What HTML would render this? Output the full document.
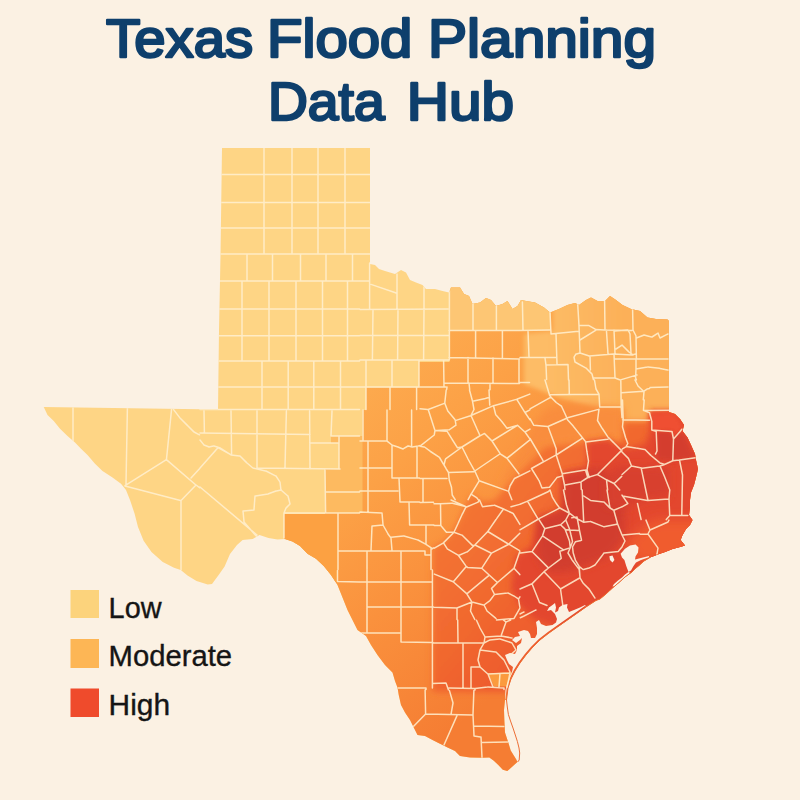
<!DOCTYPE html>
<html><head><meta charset="utf-8"><title>Texas Flood Planning Data Hub</title>
<style>html,body{margin:0;padding:0;background:#fbf1e3;}body{width:800px;height:800px;overflow:hidden;font-family:"Liberation Sans",sans-serif;}svg{display:block}</style>
</head><body>
<svg width="800" height="800" viewBox="0 0 800 800">
<defs>
<clipPath id="tx"><path d="M222,148 L370,148 L370,264 L375,265 L379,269 L385,271 L395,274 L401,270 L406,272.5 L410,280 L416,282.5 L422.5,285 L426,289 L435,289 L442.5,291 L449,292.5 L451,287.5 L460,287.5 L464,294 L469,296 L472.5,304 L480,302.5 L486,298 L491,300 L496,306 L502.5,304 L507.5,301 L512.5,309 L517.5,306 L521,300 L526,301 L535,302.5 L544,307.5 L550,312.5 L559,309 L567.5,305 L575,303 L579,305 L586,300 L591,297.5 L597.5,301 L605,301 L610,296 L616,300 L622.5,305 L631,309 L640,311 L647.5,317.5 L656,319 L667.5,319.5 L669,321 L669,412 L675,414 L680,419 L684,425 L682.5,431 L687.5,437.5 L691,445 L695,454 L696,460 L698,469 L696,477.5 L694,485 L691,492.5 L690,500 L690,507.5 L689,515 L692.5,520 L690,525 L686,529 L682.5,535 L680.6,540 L685,545.6 L680,547 L672.5,549 L665,552 L659,554 L654,556 L650,557.5 L644,561 L639,565.6 L636,568 L632,572 L625,577 L619,582.5 L612.5,588 L606,594 L600,599 L596,600.5 L586,607 L577.5,613 L567.5,620 L557.5,627 L549,633 L540,640 L532,648 L526,655 L520,663 L515,671 L511,679 L508,688 L507,696 L506.5,700 L505,700 L504,710 L504.4,721 L505,732.5 L508.4,742.7 L510.7,750.5 L516.3,759.5 L517.4,762 L513,766 L507.3,771 L502.8,769.7 L498.3,765 L493.8,760.7 L489.3,757.5 L482.5,757.8 L470,757.5 L460,756 L455,751 L447.5,747.5 L440,743.75 L432.5,740 L425,736 L417.5,735 L413.75,727.5 L410,720 L405,712.5 L401,705 L398.75,695 L397.5,687.5 L395,681 L392.5,672.5 L385,665 L377.5,655 L371,645 L366,636 L357.5,630 L352.5,620 L347.5,610 L342.5,597.5 L337.5,585 L331,575 L323.75,566 L316,558.75 L307.5,553.75 L300,546 L292.5,541.5 L285,539 L277.5,539.6 L268.5,538 L259.5,535 L252.75,539 L242.6,540 L237,545 L230,554 L224.6,566.6 L219,574.5 L212,584 L207.75,584.6 L196.5,581 L187.5,575.6 L180.75,570 L174,567.75 L162.75,562 L151.5,552 L143.6,540.75 L138,527 L134.6,513.75 L130,500 L126,490 L121,483.75 L112.5,477.5 L102.5,471 L95,463.75 L87.5,455 L81,448.75 L75,442.5 L67.5,436 L60,428.75 L53.75,421 L47.5,415 L43.75,407 L218,409.5 L219,330 L220.5,255Z"/></clipPath>
<filter id="b2" x="-50%" y="-50%" width="200%" height="200%"><feGaussianBlur stdDeviation="2"/></filter>
<filter id="b3" x="-50%" y="-50%" width="200%" height="200%"><feGaussianBlur stdDeviation="3"/></filter>
<filter id="b4" x="-50%" y="-50%" width="200%" height="200%"><feGaussianBlur stdDeviation="4"/></filter>
<filter id="b6" x="-50%" y="-50%" width="200%" height="200%"><feGaussianBlur stdDeviation="6"/></filter>
<filter id="b8" x="-50%" y="-50%" width="200%" height="200%"><feGaussianBlur stdDeviation="8"/></filter>
<filter id="b14" x="-50%" y="-50%" width="200%" height="200%"><feGaussianBlur stdDeviation="14"/></filter>
<filter id="b22" x="-50%" y="-50%" width="200%" height="200%"><feGaussianBlur stdDeviation="22"/></filter>
<linearGradient id="gmod" gradientUnits="userSpaceOnUse" x1="340" y1="380" x2="560" y2="640"><stop offset="0" stop-color="#fdac50"/><stop offset="0.3" stop-color="#fca146"/><stop offset="0.6" stop-color="#fa913d"/><stop offset="1" stop-color="#f57d33"/></linearGradient>
<linearGradient id="gdeep" gradientUnits="userSpaceOnUse" x1="440" y1="480" x2="600" y2="620"><stop offset="0" stop-color="#f57a33"/><stop offset="0.55" stop-color="#f1682f"/><stop offset="1" stop-color="#ec542e"/></linearGradient>
<linearGradient id="gne" gradientUnits="userSpaceOnUse" x1="545" y1="0" x2="625" y2="0"><stop offset="0" stop-color="#fdbc66"/><stop offset="1" stop-color="#fcb058"/></linearGradient>
</defs>
<rect width="800" height="800" fill="#fbf1e3"/>
<g clip-path="url(#tx)">
<rect x="0" y="100" width="800" height="700" fill="#fed585"/>
<path d="M449.5,280 L449.5,330.5 L449.5,362 L419,362 L419,387.5 L366,387.5 L366,410 L362.5,410 L362.5,436 L331,436 L331,443 L339,443 L339,469 L325,469 L325,514 L284,514 L284,560 L284,800 L800,800 L800,280Z" fill="url(#gmod)"/>
<path d="M449.5,280 L551,280 L551,330.5 L449.5,330.5Z" fill="#fdc674"/>
<path d="M331,436 L362.5,436 L362.5,513 L325,513 L325,469 L339,469 L339,443 L331,443Z" fill="#fdba60"/>
<path d="M284,514 L338,514 L338,582 L284,582Z" fill="#fca142"/>
<path d="M553,285 L700,285 L700,412 L650,412 L650,422 L623,422 L623,408 L597,408 L560,398 L524,384 L524,334 L553,331Z" fill="url(#gne)" filter="url(#b2)"/>
<path d="M500,488 L515,458 L530,430 L545,410 L560,405 L623,408 L623,440 L608,439 L586,442 L545,447 L530,462 L510,482Z" fill="#f98d3c" filter="url(#b4)"/>
<path d="M432.5,692 L432.5,548 L446,540 L456,526 L464,508 L472,494 L482,502 L495,500 L510,482 L530,462 L545,447 L586,442 L608,439 L615,444 L623,440 L623,422 L650,422 L650,412 L700,412 L700,640 L505,692Z" fill="url(#gdeep)" filter="url(#b3)"/>
<path d="M700,411 L650,411 L650,432 L645,445 L625,449 L615,444 L608,439 L586,442 L587,452 L587,468 L562,473 L562,510 L538,518 L532,546 L516,556 L511,588 L520,606 L536,620 L600,640 L720,560Z" fill="#e3462e" filter="url(#b3)"/>
<path d="M655,520 L700,520 L700,560 L640,562 L622,545 L640,530Z" fill="#f05c2f" filter="url(#b6)"/>
<path d="M488,673.5 L512,672 L508,686.5 L494,686.5Z" fill="#fb9b3e"/>
<path d="M650,413 L670.5,412 L675,414 L682.5,425 L681,431.5 L673.5,439 L672,431.5 L657,431 L652,430 L651,421Z" fill="#ef5030" filter="url(#b2)"/>
<path d="M538,519 L562,510 L564,474 L600,468 L616,478 L626,500 L624,540 L610,556 L585,566 L566,572 L548,572 L537,556Z" fill="#d23c2e" filter="url(#b4)"/>
<path d="M657,432 L672,432 L673.5,439 L681,432 L686,438 L691,450 L695,458 L679,460 L673,461 L657,460Z" fill="#d43c2e" filter="url(#b2)"/>
<path d="M615,466 L645,466 L669,468 L669,497 L646,499 L625,508 L606,506 L606,482Z" fill="#d83f2e" filter="url(#b4)"/>
</g>
<path d="M586,606.5 L585,605 L580,607.5 L574,610 L569,612 L567,607.5 L567.5,604 L562.5,605 L559,607.5 L558,611 L555,612.5 L556,607.5 L555,603 L552.5,605 L549,607.5 L547,611 L551,610 L555,614 L557,619 L556,622.5 L552.5,625 L546,626 L541,624 L539,620 L536,622 L537,628 L537,634 L535,638 L531,638 L530,634 L528,631 L524,630 L518,632 L520,636 L515,637 L512,640 L516,643 L520,640 L522,638 L521,643 L517,646 L517,650 L515,654 L510,653 L505,655 L507,660 L509,664 L513,667 L512,672 L510,676 L507,684 L505.5,690 L505,700 L505.4,699.1 L505.9,695.1 L506.9,687.1 L509.9,678.1 L513.9,670.1 L518.9,662.1 L524.9,654.1 L530.9,647.1 L538.9,639.1 L547.9,632.1 L556.4,626.1 L566.4,619.1 L576.4,612.1 L584.9,606.1Z" fill="#fbf1e3"/>
<path d="M620.6,553.75 L625,548.75 L630,545.6 L635.6,544.4 L638.5,547.5 L638,552.5 L635.6,556.25 L635,559.4 L641,558 L649,556 L649,557.3 L641,560 L636,562.5 L633.5,566 L631,570.5 L628.5,572 L626.25,566 L624.4,560 L622,557.5Z" fill="#fbf1e3"/>
<path d="M609.4,556.25 L612.5,555.6 L614.4,560 L612.5,562.5 L610,560Z" fill="#fbf1e3"/>
<path d="M628.5,572 L625,574.5 L622,577.5 L618,580.5 L614,584 L612.5,586.5 L614.5,586.2 L618.5,582.7 L622.5,579.2 L626,576.2 L630,572.7Z" fill="#fbf1e3"/>
<path d="M650,557.5 L644,561 L639,565.6 L636,568 L632,572 L625,577 L619,582.5 L612.5,588 L606,594 L600,599 L596,600.5 L586,607 L577.5,613 L567.5,620 L557.5,627 L549,633 L540,640 L532,648 L526,655 L520,663 L515,671 L511,679 L508,688 L507,696 L506.5,700 L507.3,707 L508.4,714.5 L510.5,721 L513,728 L515.3,735 L517.4,741.5 L519,748 L519.7,753 L519.2,760 L517.6,762" fill="none" stroke="#ec6e35" stroke-width="1" stroke-linejoin="round"/>
<clipPath id="cgrid"><path d="M0,0H800V250H360V410H0Z"/></clipPath>
<g clip-path="url(#tx)" fill="none" stroke="#fff0d0" stroke-width="1.5" stroke-opacity="0.86" stroke-linejoin="round" stroke-linecap="round">
<path d="M215.0,174.5L371.5,174.5L372.0,174.5M215.0,202.5L371.5,202.5L372.0,202.5M215.0,228.0L371.5,228.0L372.0,228.0M264.0,148.0L264.0,249.5M292.0,148.0L292.0,249.5M318.0,148.0L318.0,249.5M345.0,148.0L345.0,249.5M215.0,254.0L359.5,254.0M264.0,250.0L264.0,253.5L264.0,254.0M292.0,250.0L292.0,253.5L292.0,254.0M318.0,250.0L318.0,253.5L318.0,254.0M345.0,250.0L345.0,253.5L345.0,254.0M215.0,281.0L359.5,281.0M215.0,309.0L359.5,309.0M247.0,254.0L247.0,280.5L247.0,281.0M272.5,254.0L272.5,280.5L272.5,281.0M300.5,254.0L300.5,280.5L300.5,281.0M326.0,254.0L326.0,280.5L326.0,281.0M352.5,254.0L352.5,280.5L352.5,281.0M242.0,281.0L242.0,360.5L242.0,361.0M269.0,281.0L269.0,360.5L269.0,361.0M296.0,281.0L296.0,360.5L296.0,361.0M322.5,281.0L322.5,360.5L322.5,361.0M347.5,281.0L347.5,360.5L347.5,361.0M215.0,335.8L359.5,335.8M215.0,361.0L359.5,361.0M215.0,387.0L359.5,387.0M200.0,409.6L359.5,409.6M262.0,361.0L262.0,409.5M288.2,361.0L288.2,409.5M313.8,361.0L313.8,409.5M340.5,361.0L340.5,409.5M360.0,254.0L369.5,254.0L370.0,254.0M360.0,281.0L369.1,281.0L369.6,281.0M360.0,309.6L447.5,309.0L448.0,309.0M360.0,335.6L448.5,335.6L449.0,335.6M449.0,330.6L519.5,330.6M360.0,360.0L448.5,360.0L449.0,360.0M449.0,357.4L519.5,359.0M360.0,387.0L445.5,387.0L446.0,387.0M444.0,383.0L519.5,383.6M369.6,263.0L369.6,309.1L369.6,309.6M371.0,284.4L395.5,292.8L396.0,293.0M397.0,274.0L397.0,309.1L397.0,309.6M424.0,287.0L424.0,309.1L424.0,309.6M449.4,291.0L449.4,359.5L449.4,360.0M473.0,304.0L473.0,330.1L473.0,330.6M496.4,306.0L496.4,330.1L496.4,330.6M373.0,309.6L372.4,359.5L372.4,360.0M398.0,309.6L397.6,359.5L397.6,360.0M424.0,309.6L423.6,359.5L423.6,360.0M475.6,330.6L475.6,356.9L475.6,357.4M502.4,330.6L502.4,356.9L502.4,357.4M366.0,360.0L366.0,409.5M392.0,360.0L392.0,386.5L392.0,387.0M419.0,360.0L419.0,386.5L419.0,387.0M443.6,360.0L444.0,386.5L444.0,387.0M468.0,357.4L468.0,382.5L468.0,383.0M493.0,358.0L493.0,382.5L493.0,383.0M519.0,359.0L519.0,383.1L519.0,383.6M390.0,387.0L390.0,409.5M416.6,387.0L416.6,409.5M447.0,387.0L446.7,389.5M469.0,383.0L469.7,389.5M490.0,383.6L490.0,389.7M522.4,302.0L523.0,329.9L523.0,330.4M520.0,330.6L549.5,330.0L550.0,330.0M550.0,312.0L551.0,333.5L551.0,334.0M551.0,334.0L578.5,331.2L579.0,331.2M577.6,302.4L579.0,325.5L579.0,326.0M579.0,325.6L588.5,325.6L589.0,325.6L595.6,329.4L596.0,329.6L604.5,330.0L605.0,330.0L631.5,330.4L632.0,330.4M604.6,300.0L605.0,329.5L605.0,330.0M632.6,309.0L633.0,329.5L633.0,330.0L635.8,335.5L636.0,336.0L636.4,358.5L636.4,359.0M528.0,330.6L529.0,356.9L529.0,357.4M520.0,357.4L555.5,357.4L556.0,357.4M556.0,334.0L557.0,363.9L557.0,364.4M545.0,358.0L545.9,364.5L546.0,365.0M546.0,365.0L567.5,364.4L568.0,364.4M520.0,382.4L529.5,382.4M546.0,365.0L546.6,379.5M568.0,364.4L568.5,380.0M579.0,326.0L580.0,352.5L580.0,353.0M580.0,340.0L595.6,330.3L596.0,330.0M606.4,330.0L608.0,353.5L608.0,354.0M614.0,330.0L615.0,353.5L615.0,354.0M615.0,331.0L627.5,330.0L628.0,330.0L629.8,333.5L630.0,334.0L631.0,353.5L631.0,354.0M616.0,349.0L621.6,345.3L622.0,345.0L628.6,351.6L629.0,352.0L632.6,354.7L633.0,355.0M580.0,353.0L576.5,353.9L576.0,354.0L574.3,356.6L574.0,357.0L574.9,361.5L575.0,362.0L585.6,367.8L586.0,368.0L591.6,373.6L592.0,374.0L593.4,379.5M580.0,353.0L588.5,355.8L589.0,356.0L613.5,354.0L614.0,354.0L631.5,355.0L632.0,355.0L635.5,354.1L636.0,354.0M590.0,356.0L590.4,369.5L590.4,370.0M614.0,354.0L615.0,377.5L615.0,378.0M594.0,378.0L614.5,378.0L615.0,378.0L619.5,379.8M620.5,379.9L636.5,375.1L637.0,375.0M615.0,359.0L667.5,359.0L668.0,359.0M636.4,338.0L643.5,335.2L644.0,335.0L651.5,336.9L652.0,337.0L657.6,333.3L658.0,333.0L659.8,337.5L660.0,338.0L667.5,334.2L668.0,334.0M636.0,369.0L647.5,367.1L648.0,367.0L659.5,368.3L660.0,368.4L667.5,369.9L668.0,370.0M636.0,359.0L636.0,368.5L636.0,369.0L635.6,377.5L635.6,378.0L636.4,379.9M650.0,387.6L667.5,387.0L668.0,387.0M363.0,410.0L363.0,440.5L363.0,441.0M387.0,410.0L387.0,440.5L387.0,441.0M411.6,410.0L411.6,446.5L411.6,447.0M360.0,441.0L386.5,441.0L387.0,441.0M419.5,445.6L418.5,445.9L418.0,446.0L412.5,446.9L412.0,447.0L408.5,446.1L408.0,446.0L403.5,448.7L403.0,449.0L398.5,447.2L398.0,447.0L392.5,445.2L392.0,445.0L387.4,441.3L387.0,441.0M368.0,441.0L368.0,511.5L368.0,512.0M360.0,468.0L390.5,468.0L391.0,468.0M360.0,491.0L397.5,491.0L398.0,491.0M360.0,512.0L381.5,513.0L382.0,513.0M392.0,445.6L392.0,477.5L392.0,478.0M392.0,478.0L419.5,478.0M417.0,446.4L417.0,477.5L417.0,478.0M399.0,478.0L400.0,501.5L400.0,502.0M400.0,502.0L419.5,502.0M409.0,502.0L409.6,524.5L409.6,525.0M409.6,525.0L433.9,525.0M382.0,513.0L383.0,524.5L383.0,525.0L372.5,526.0L372.0,526.0L371.0,550.5L371.0,551.0M383.0,525.0L387.8,533.5L388.0,534.0L390.7,537.6L391.0,538.0L392.0,550.5L392.0,551.0M391.0,537.2L403.5,536.0L404.0,536.0L417.5,539.9L418.0,540.0L425.6,544.2L426.0,544.4L431.6,548.1L432.0,548.4M360.0,551.0L424.5,551.0L425.0,551.0L425.0,554.5L425.0,555.0L430.5,555.0L431.0,555.0M367.0,551.0L367.0,569.5M401.0,551.0L401.0,569.5M431.0,548.4L431.0,569.5M426.0,525.6L426.0,543.9L426.0,544.4M433.8,547.9L432.4,548.7L432.0,549.0M646.0,520.1L649.8,529.5L650.0,530.0L648.2,533.5L648.0,534.0L640.0,534.3M648.0,534.0L657.7,547.6L658.0,548.0L657.1,553.5L657.0,554.0M650.0,530.0L667.5,522.2L668.0,522.0L668.9,520.1M360.0,582.0L431.9,582.0L432.4,582.0M367.0,570.0L367.0,632.5L367.0,633.0M401.0,570.0L401.0,641.5L401.0,642.0M367.0,607.0L432.5,607.0L433.0,607.0M360.0,633.0L400.5,633.0L401.0,633.0M401.0,642.0L432.5,642.4L433.0,642.4M432.4,570.0L432.4,687.5L432.4,688.0M433.0,607.0L433.5,607.0M457.7,620.0L458.0,642.5L458.0,643.0M433.0,643.0L483.5,643.0L484.0,643.0M463.0,643.0L463.0,687.5L463.0,688.0M398.0,688.0L425.5,688.0L426.0,688.0L426.0,689.5M432.4,683.6L445.5,683.0L446.0,683.0L448.4,689.7M449.0,688.0L474.5,688.4L475.0,688.4L487.5,687.1L488.0,687.0L503.5,688.0L504.0,688.0L504.0,689.5M475.0,688.4L475.0,689.9M471.0,667.0L471.0,687.5L471.0,688.0M471.0,667.0L479.5,667.0L480.0,667.0L487.6,673.7L488.0,674.0L509.5,673.0L510.0,673.0M488.0,674.0L492.8,686.5L493.0,687.0M500.0,673.6L499.0,686.9L499.0,687.4M510.0,673.0L507.1,687.1L507.0,687.6M484.0,643.0L480.2,649.6L480.0,650.0L478.1,659.5L478.0,660.0L479.9,666.5L480.0,667.0M476.5,620.2L479.8,627.5L480.0,628.0L484.8,636.5L485.0,637.0L484.1,642.5L484.0,643.0M503.6,620.1L505.6,621.7L506.0,622.0L501.2,635.5L501.0,636.0L485.5,637.0L485.0,637.0M506.0,622.0L510.7,620.0M501.0,636.0L511.5,637.9L512.0,638.0M484.0,643.0L489.5,640.2L490.0,640.0L499.5,639.0L500.0,639.0L511.5,642.8L512.0,643.0L515.8,649.6L516.0,650.0L509.4,655.7L509.0,656.0M480.0,650.0L495.5,651.9L496.0,652.0L503.6,659.6L504.0,660.0L509.8,671.5L510.0,672.0M520.0,614.0L523.5,612.2L524.0,612.0M520.3,617.7L523.5,616.2L524.0,616.0L535.5,610.2L536.0,610.0M204.0,411.0L204.4,432.5L204.4,433.0M231.0,411.0L231.6,454.5L231.6,455.0M257.0,411.0L257.0,467.5L257.0,468.0M286.4,411.0L285.0,467.5L285.0,468.0M309.6,411.0L310.0,468.5L310.0,469.0M332.0,411.0L331.0,435.5L331.0,436.0M200.0,433.0L309.5,434.4L310.0,434.4M309.6,443.0L338.5,443.0L339.0,443.0M339.0,436.0L339.0,468.5L339.0,469.0M331.0,436.0L359.5,436.0M257.0,468.0L339.5,469.0L340.0,469.0M325.0,469.0L325.6,511.9L325.6,512.4M325.6,492.0L359.5,492.0M284.0,513.0L359.5,513.0M338.0,513.0L338.0,569.5M338.0,551.0L359.5,551.0M284.0,513.0L284.0,537.5L284.0,538.0M200.0,440.0L203.7,444.6L204.0,445.0L208.5,446.8L209.0,447.0L213.5,446.1L214.0,446.0L219.5,447.8L220.0,448.0L230.6,454.7L231.0,455.0L239.5,455.9L240.0,456.0L246.6,462.6L247.0,463.0L252.6,467.7L253.0,468.0L265.5,470.9L266.0,471.0L275.5,475.8L276.0,476.0L279.7,481.6L280.0,482.0L280.9,489.5L281.0,490.0L287.6,495.7L288.0,496.0L289.9,503.5L290.0,504.0L286.4,507.6L286.0,508.0L284.2,512.5L284.0,513.0M281.0,490.0L276.5,490.9L276.0,491.0L268.5,493.8L268.0,494.0L255.5,495.9L255.0,496.0L254.0,509.5L254.0,510.0L243.5,511.0L243.0,511.0L244.0,521.5L244.0,522.0L256.7,536.6L257.0,537.0M200.0,468.0L217.7,448.0L218.0,447.6L231.1,454.8L231.6,455.0M200.0,487.0L256.6,534.7L257.0,535.0M73.0,407.0L73.0,440.5L73.0,441.0M127.4,408.0L126.0,484.5L126.0,485.0M171.6,409.0L166.5,459.1L166.4,459.6M166.4,459.6L125.4,485.3L125.0,485.6M125.0,486.0L180.5,500.5L181.0,500.6M181.0,500.6L181.0,570.0M166.4,459.6L195.6,484.7L196.0,485.0L181.3,500.2L181.0,500.6M196.0,485.0L199.6,487.7M191.0,478.0L199.7,468.4M173.6,409.6L179.7,417.6L180.0,418.0L187.6,425.6L188.0,426.0L193.6,431.6L194.0,432.0L199.5,434.8M425.1,690.0L425.6,713.5L425.6,714.0M425.6,714.0L472.5,715.0L473.0,715.0M449.4,690.4L452.9,702.5L453.0,703.0L451.1,713.9L451.0,714.4M473.9,690.4L473.0,714.5L473.0,715.0L474.0,735.5L474.0,736.0L480.5,736.9L481.0,737.0L482.0,757.5L482.0,758.0M474.0,726.0L503.5,726.4L504.0,726.4M482.0,742.4L507.5,742.0L508.0,742.0M425.6,714.0L413.4,726.6L413.0,727.0M457.0,715.6L444.2,744.5L444.0,745.0M337.5,570.5L337.5,581.0L337.5,581.5M337.5,581.5L359.5,582.0M446.2,390.0L444.8,402.7L444.8,403.2L447.6,410.5L447.8,411.0L454.9,419.6L455.2,420.0L455.9,424.7L456.0,425.2L449.7,429.5L449.2,429.8L437.0,430.5L436.5,430.5L435.5,430.5L435.0,430.5M420.0,408.8L427.7,409.5L428.2,409.5L444.3,403.4L444.8,403.2M428.2,409.5L434.8,430.0L435.0,430.5L434.3,434.5L434.2,435.0L420.4,445.9L420.0,446.2M435.0,430.5L446.5,431.2L447.0,431.2M456.0,420.4L470.5,415.7L471.0,415.5L493.0,405.9L493.5,405.8M469.5,390.0L472.4,400.8L472.5,401.2L473.9,409.0L474.0,409.5L471.2,415.0L471.0,415.5M472.5,401.2L485.5,398.4L486.0,398.2L488.8,397.6L489.3,397.5M489.0,390.0L489.7,404.5L489.8,405.0M471.0,415.5L476.8,428.5L477.0,429.0L479.8,435.3L480.0,435.8M480.0,435.8L484.1,433.7L484.5,433.5L491.6,440.6L492.0,441.0L500.0,453.3L500.2,453.8L506.6,458.0L507.0,458.2L518.7,473.6L519.0,474.0M447.0,431.2L452.0,439.1L452.2,439.5L457.2,447.3L457.5,447.8L461.5,447.1L462.0,447.0L479.6,436.0L480.0,435.8M462.0,447.0L445.9,458.7L445.5,459.0L444.1,464.5L444.0,465.0L446.0,468.3L446.2,468.8L448.2,472.0L448.5,472.5L473.5,471.8L474.0,471.8M462.0,447.0L467.8,458.5L468.0,459.0L474.5,470.6L474.8,471.0L479.0,480.3L479.2,480.8M474.8,471.0L499.8,454.0L500.2,453.8M492.0,441.0L517.1,425.5L517.5,425.2L524.6,431.7L525.0,432.0L530.0,439.1M529.9,439.8L507.4,457.9L507.0,458.2M493.5,405.8L495.6,414.2L495.8,414.8L501.4,421.1L501.8,421.5L506.7,427.9L507.0,428.2L517.0,425.4L517.5,425.2M493.5,405.8L516.3,399.4L516.8,399.3L529.8,394.1M516.8,399.3L524.7,412.1L525.0,412.5L529.8,419.7M525.0,412.5L529.9,409.8M525.0,432.0L530.0,429.1M479.2,480.8L508.0,491.1L508.5,491.2L509.9,486.5L510.0,486.0L514.2,478.9L514.5,478.5L529.9,470.8M508.5,491.2L511.9,499.7M479.2,480.8L471.3,493.8L471.0,494.2L468.1,499.6M471.0,494.2L476.6,497.7L477.0,498.0L478.2,499.6M420.0,446.2L424.0,446.9L424.5,447.0L430.1,451.2L430.5,451.5L439.1,457.2L439.5,457.5L443.7,464.6L444.0,465.0M448.5,472.5L449.2,479.5L449.2,480.0L451.4,487.0L451.5,487.5L452.2,494.5L452.2,495.0L455.2,499.7M420.0,478.5L446.5,478.5L447.0,478.5M423.0,478.5L423.0,502.0L423.0,502.5M420.0,502.5L433.5,502.2M545.0,380.0L549.4,394.5L549.5,395.0L550.7,396.8L551.0,397.2L530.4,408.6L530.0,408.8M549.5,394.7L598.5,394.3L599.0,394.2M569.0,380.0L569.3,394.2L569.3,394.7M594.5,380.0L595.9,388.5L596.0,389.0L598.8,393.8L599.0,394.2L599.7,406.5L599.8,407.0L620.7,407.0L621.2,407.0M620.8,380.0L621.2,406.5L621.2,407.0L622.0,417.7M621.5,392.8L643.5,391.3L644.0,391.2L646.6,389.3L647.0,389.0L649.5,388.4M635.0,380.0L637.8,385.5L638.0,386.0L643.6,391.3L644.0,391.7L643.3,399.8M551.0,397.2L555.9,402.1L556.2,402.5L561.1,405.9L561.5,406.2L565.8,415.5L566.0,416.0L567.3,419.3L567.5,419.8L573.2,426.1L573.5,426.5L579.2,433.6L579.5,434.0L585.2,441.1L585.5,441.5L586.9,451.5L587.0,452.0L588.4,460.5L588.5,461.0L587.1,469.5L587.0,470.0L589.1,477.0L589.2,477.5M567.5,417.8L598.5,409.4L599.0,409.2M599.0,409.2L597.6,420.0L597.5,420.5L601.7,427.6L602.0,428.0L607.7,436.6L608.0,437.0L613.6,442.6L614.0,443.0L621.1,450.1L621.5,450.5M585.8,442.1L607.5,439.3L608.0,439.2M530.0,418.7L533.5,424.9L533.8,425.3L547.5,426.5L548.0,426.5L566.7,418.3L567.2,418.1M548.0,426.5L556.1,448.5L556.2,449.0L556.2,454.5L556.2,455.0M530.0,438.5L543.2,460.9L543.5,461.3M531.5,468.5L543.1,462.0L543.5,461.8L555.8,455.2L556.2,455.0L581.3,438.8L581.8,438.5M556.2,455.0L562.1,473.3L562.2,473.8L564.4,484.5L564.5,485.0L565.0,489.5M531.5,468.5L538.7,480.1L539.0,480.5L541.8,487.5L542.0,488.0L549.0,487.3L549.5,487.2L556.7,477.9L557.0,477.5L561.7,476.1L562.2,476.0M562.2,473.8L585.0,470.1L585.5,470.0L587.6,477.0L587.8,477.5L581.4,481.7L581.0,482.0L565.0,484.9L564.5,485.0M581.0,482.0L581.3,489.5M587.8,477.5L597.0,474.6L597.5,474.5L621.1,450.9L621.5,450.5M621.5,450.5L621.8,450.1M621.5,450.5L621.8,450.9M621.7,476.4L614.4,483.2L614.0,483.5L607.0,480.0L606.5,479.8L598.0,474.8L597.5,474.5M606.5,479.8L607.6,489.9M614.0,483.5L619.7,489.9M520.0,504.2L527.0,501.4L527.5,501.2L548.0,491.7L548.5,491.5L549.6,490.4L550.0,490.0M527.5,501.2L537.7,518.4L538.0,518.8M520.0,529.8L537.6,519.5L538.0,519.2L557.1,509.3L557.5,509.1L559.2,508.3L559.8,508.0M550.0,490.0L552.1,496.3L552.2,496.8L556.5,503.8L556.8,504.2L559.4,507.6L559.8,508.0L569.1,513.0L569.5,513.2M569.5,513.2L566.0,519.5L565.8,520.0L560.9,524.5L560.5,524.8L545.2,528.6L544.8,528.7L539.0,519.7L538.8,519.2M563.5,490.0L566.4,504.5L566.5,505.0L569.3,512.8L569.5,513.2M582.2,490.0L583.7,521.7L583.8,522.2M569.5,513.2L575.1,517.5L575.5,517.8L583.3,522.0L583.8,522.2L590.0,521.6L590.5,521.5L603.5,526.6L604.0,526.8L615.5,524.6L616.0,524.5L617.0,524.0L617.5,523.8M607.0,490.0L609.9,507.5L610.0,508.0L613.3,510.0L613.8,510.2L621.8,506.9M613.8,510.2L617.4,523.3L617.5,523.8L621.8,534.5L622.0,535.0L624.8,540.5L625.0,541.0L622.2,546.5L622.0,547.0L618.6,551.1L618.2,551.5M583.8,496.0L590.1,500.2L590.5,500.5L603.5,501.9L604.0,502.0L609.6,507.6L610.0,508.0M622.8,535.0L639.5,533.5M565.8,520.0L569.3,528.5L569.5,529.0L570.9,534.5L571.0,535.0L572.4,541.2L572.5,541.8L570.4,547.2L570.2,547.8M571.8,517.8L576.5,517.1L577.0,517.0L579.2,528.5L579.2,529.0L581.4,539.7L581.5,540.2M565.8,529.8L578.0,530.5L578.5,530.5M560.5,524.8L564.6,528.6L565.0,529.0L569.3,540.5L569.5,541.0L570.2,547.2L570.2,547.8M618.2,551.5L604.5,552.9L604.0,553.0L602.1,555.6L601.8,556.0L595.3,564.6L595.0,565.0L589.5,567.8L589.0,568.0L583.5,569.4L583.0,569.5L579.7,566.8L579.2,566.5L575.8,560.9L575.5,560.5L573.4,553.5L573.2,553.0L572.6,547.5L572.5,547.0L575.2,542.2L575.5,541.8L581.0,540.4L581.5,540.2M544.8,528.7L542.7,535.2L542.5,535.8L532.3,551.1L532.0,551.5L520.5,552.9L520.0,553.0M532.0,551.5L548.1,567.6L548.5,568.0L560.9,558.6L561.2,558.2L559.9,551.7L559.8,551.2L563.0,550.2L563.5,550.0L569.8,547.9L570.2,547.8M542.5,535.8L563.1,549.7L563.5,550.0M548.5,568.0L544.4,571.4L544.0,571.8L532.4,583.4L532.0,583.8L520.5,588.8L520.0,589.0M544.0,571.8L560.1,588.6L560.5,589.0L579.6,578.0L580.0,577.8L579.3,567.0L579.2,566.5M560.5,589.0L563.4,609.5M532.0,583.8L539.3,602.0L539.5,602.5L546.5,605.3L547.0,605.5M580.0,577.8L582.8,582.6L583.0,583.0L588.6,588.6L589.0,589.0L594.7,597.6L595.0,598.0M570.2,547.8L568.2,552.5L568.0,553.0L572.2,560.1L572.5,560.5L578.9,569.1L579.2,569.5L580.0,577.2L580.0,577.8M451.0,500.0L465.5,506.5L466.0,506.8L462.5,513.8L462.2,514.2L458.0,523.5L457.8,524.0L454.2,531.8L454.0,532.2L443.9,542.4L443.5,542.8L434.4,548.2M434.0,503.8L440.0,503.8L440.5,503.8L440.8,525.0L440.8,525.5L446.2,531.9L446.5,532.2L453.5,532.2L454.0,532.2M434.1,525.5L440.3,525.5L440.8,525.5M440.5,503.8L452.0,503.3L452.5,503.3L465.5,506.6L466.0,506.8M466.0,507.2L477.5,502.4L478.0,502.2L479.2,500.4L479.5,500.0M479.5,500.0L482.3,506.3L482.5,506.8L494.0,505.3L494.5,505.2L503.0,508.8L503.5,509.0M503.5,509.0L496.3,519.1L496.0,519.5L488.0,531.1L487.8,531.5L475.3,544.6L475.0,545.0M503.5,509.0L512.8,513.3L513.2,513.5L519.9,524.4M511.0,506.8L519.7,504.4M519.8,533.2L509.1,543.9L508.8,544.2M487.8,531.5L508.3,544.0L508.8,544.2L519.6,550.7M454.0,532.2L461.8,535.1L462.2,535.2L472.4,545.4L472.8,545.8L474.4,545.2L475.0,545.0L491.0,553.0L491.5,553.2L508.3,544.5L508.8,544.2M443.5,542.8L447.0,548.3L447.2,548.8L458.1,555.2L458.5,555.5L465.7,565.6L466.0,566.0L467.1,567.1L467.5,567.5L481.2,568.2L481.8,568.2M458.5,555.5L467.0,551.9L467.5,551.8L474.6,545.3L475.0,545.0M466.0,566.8L453.6,581.4L453.2,581.8L434.4,574.1M481.8,568.2L491.2,553.7L491.5,553.2M481.8,568.2L497.1,582.2L497.5,582.5L491.9,588.1L491.5,588.5L494.3,594.0L494.5,594.5L507.5,593.1L508.0,593.0L513.5,595.8L514.0,596.0L518.0,598.7L518.5,599.0M453.2,581.8L466.4,593.4L466.8,593.8L488.1,576.1L488.5,575.8M466.8,593.8L471.7,601.6L472.0,602.0L457.5,607.8L457.0,608.0L434.0,607.3M472.0,602.0L483.5,604.9L484.0,605.0L489.6,600.8L490.0,600.5L494.2,594.9L494.5,594.5M497.5,582.5L513.6,568.6L514.0,568.2L519.8,551.5M514.0,568.2L519.8,574.6M519.9,596.9L518.8,598.6L518.5,599.0L519.9,607.5M519.8,608.4L514.2,618.1L514.0,618.5L496.5,620.0M484.0,605.0L486.8,610.5L487.0,611.0L495.6,618.2L496.0,618.5M472.0,602.0L470.6,610.5L470.5,611.0L474.8,619.5M457.0,608.0L457.0,619.5M622.5,400.0L623.2,419.0L623.2,419.5L622.5,426.5L622.5,427.0L625.4,437.0L625.5,437.5L627.6,443.0L627.8,443.5L626.5,446.0L626.2,446.5M622.5,419.8L649.0,420.2L649.5,420.2M644.2,400.0L643.5,409.7L643.5,410.2L649.0,412.6L649.5,412.8L651.6,420.5L651.8,421.0L651.8,429.5L651.8,430.0L655.8,431.3L656.2,431.5L657.0,450.5L657.0,451.0L655.8,453.5L655.5,454.0M643.5,410.5L670.0,410.2L670.5,410.2M651.8,430.0L671.5,431.5L672.0,431.5L673.4,438.5L673.5,439.0L679.2,432.6L679.5,432.2L681.4,429.7L681.8,429.2M673.5,439.0L672.8,459.8L672.8,460.3M626.2,446.5L635.5,447.9L636.0,448.0L644.5,449.4L645.0,449.5L650.6,455.1L651.0,455.5L659.6,462.7L660.0,463.0L664.0,464.3L664.5,464.5L672.3,461.0L672.8,460.8L679.0,460.1L679.5,460.0L695.5,457.8L696.0,457.8M622.4,448.9L625.8,446.8L626.2,446.5M622.0,452.0L628.1,458.1L628.5,458.5L631.3,465.5L631.5,466.0L641.5,468.1L642.0,468.2L659.5,466.1L660.0,466.0L664.0,464.7L664.5,464.5M631.5,466.0L622.1,474.5M622.0,495.1L622.3,495.5L622.5,496.0L647.5,500.4L648.0,500.5L641.4,469.2L641.2,468.7M622.0,506.9L627.3,503.8L627.8,503.5L622.8,496.4L622.5,496.0M648.0,500.5L668.5,499.0L669.0,499.0L669.7,490.5L669.8,490.0L664.7,477.0L664.5,476.5L660.2,466.5L660.0,466.0M679.5,460.0L682.4,474.5L682.5,475.0L681.8,514.2L681.8,514.8M669.0,499.0L669.7,515.0L669.8,515.5L687.2,515.5L687.8,515.5M637.5,503.5L641.1,519.5M669.8,515.5L666.3,519.6"/>
</g>
<g font-family="Liberation Sans, sans-serif" font-weight="400" fill="#0e3f6c" stroke="#0e3f6c" stroke-width="2.5" stroke-linejoin="round" font-size="54.5">
<text x="106.14" y="56.95" textLength="147.17" lengthAdjust="spacingAndGlyphs">Texas</text>
<text x="267.06" y="56.95" textLength="145.37" lengthAdjust="spacingAndGlyphs">Flood</text>
<text x="427.93" y="56.95" textLength="228.11" lengthAdjust="spacingAndGlyphs">Planning</text>
<text x="267.95" y="120.3" textLength="116.75" lengthAdjust="spacingAndGlyphs">Data</text>
<text x="406.89" y="120.3" textLength="107.24" lengthAdjust="spacingAndGlyphs">Hub</text>
</g>
<rect x="70.5" y="590" width="28.5" height="28" fill="#fcd37c"/>
<rect x="70.5" y="639" width="28.5" height="29" fill="#fdb655"/>
<rect x="70.5" y="688.5" width="28.5" height="28.5" fill="#ef4b2c"/>
<g font-family="Liberation Sans, sans-serif" fill="#151515" stroke="#151515" stroke-width="0.35" font-size="28.6">
<text x="108.6" y="617.6" textLength="53" lengthAdjust="spacingAndGlyphs">Low</text>
<text x="108.6" y="666" textLength="123.5" lengthAdjust="spacingAndGlyphs">Moderate</text>
<text x="108.6" y="714.6" textLength="61.5" lengthAdjust="spacingAndGlyphs">High</text>
</g>
</svg>
</body></html>
